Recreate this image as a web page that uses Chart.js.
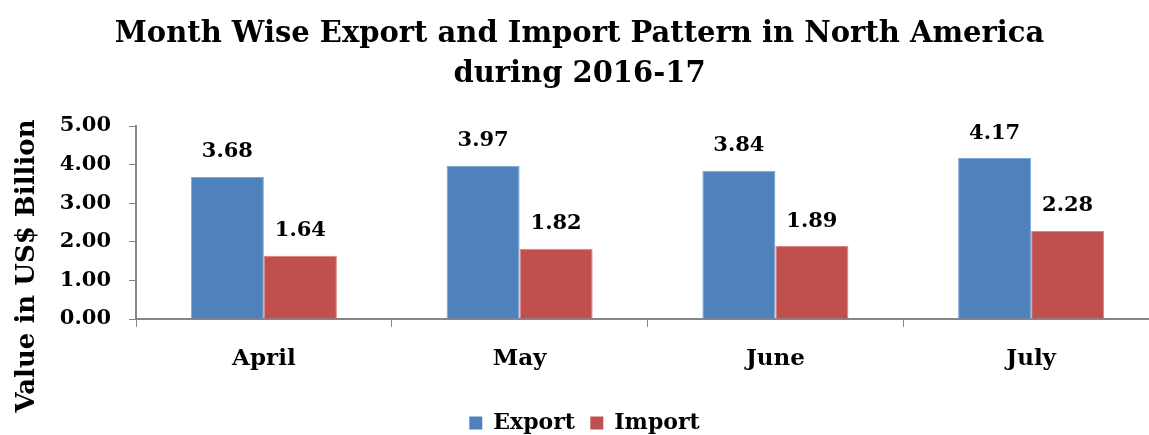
<!DOCTYPE html>
<html>
<head>
<meta charset="utf-8">
<script src="https://cdn.jsdelivr.net/npm/chart.js@4.4.0/dist/chart.umd.min.js"></script>
<style>
  html, body { margin: 0; padding: 0; background: #fff; overflow: hidden; }
  #wrap { width: 1149px; height: 435px; overflow: hidden; }
</style>
</head>
<body>
<div id="wrap"><canvas id="chart" width="1159" height="435"></canvas></div>
<script>
const months = ['April', 'May', 'June', 'July'];
const exportValues = [3.68, 3.97, 3.84, 4.17];
const importValues = [1.64, 1.82, 1.89, 2.28];
const titleLines = ['Month Wise Export and Import Pattern in North America', 'during 2016-17'];
const yAxisTitle = 'Value in US$ Billion';

const FONT = "'DejaVu Serif', serif";

// draws the value above each bar
const valueLabels = {
    id: 'valueLabels',
    afterDatasetsDraw(chart) {
        const ctx = chart.ctx;
        ctx.save();
        ctx.font = 'bold 21px ' + FONT;
        ctx.fillStyle = '#000';
        ctx.textAlign = 'center';
        ctx.textBaseline = 'middle';
        chart.data.datasets.forEach((ds, i) => {
            chart.getDatasetMeta(i).data.forEach((bar, j) => {
                ctx.fillText(ds.data[j].toFixed(2), bar.x, bar.y - 25);
            });
        });
        ctx.restore();
    }
};

// rotated axis title, centred a bit lower than the plot like the original
const yTitle = {
    id: 'yTitle',
    afterDraw(chart) {
        const ctx = chart.ctx;
        ctx.save();
        ctx.translate(27, 266);
        ctx.rotate(-Math.PI / 2);
        ctx.font = 'bold 26px ' + FONT;
        ctx.fillStyle = '#000';
        ctx.textAlign = 'center';
        ctx.textBaseline = 'middle';
        ctx.fillText(yAxisTitle, 0, 0);
        ctx.restore();
    }
};

// legend reserves 10px under itself; nudge it down into that space
const legendNudge = {
    id: 'legendNudge',
    afterLayout(chart) {
        const lg = chart.legend;
        if (!lg) return;
        lg.top += 9;
        lg.bottom += 9;
        lg.left += 5;
        lg.right += 5;
    }
};

new Chart(document.getElementById('chart'), {
    type: 'bar',
    data: {
        labels: months,
        datasets: [
            {
                label: 'Export',
                data: exportValues,
                backgroundColor: '#4F81BD',
                borderColor: '#7EA6D8',
                borderWidth: 1
            },
            {
                label: 'Import',
                data: importValues,
                backgroundColor: '#C0504D',
                borderColor: '#D98583',
                borderWidth: 1
            }
        ]
    },
    options: {
        responsive: false,
        animation: false,
        layout: { padding: { left: 0, right: 0, top: 0, bottom: 0 } },
        datasets: {
            bar: { categoryPercentage: 0.571, barPercentage: 1.0 }
        },
        plugins: {
            title: {
                display: true,
                text: titleLines,
                color: '#000',
                font: { family: FONT, size: 29, weight: 'bold', lineHeight: 1.38 },
                padding: { top: 14, bottom: 32 }
            },
            legend: {
                position: 'bottom',
                labels: {
                    color: '#000',
                    font: { family: FONT, size: 22, weight: 'bold', lineHeight: 1.0 },
                    boxWidth: 13,
                    boxHeight: 13,
                    padding: 0,
                    generateLabels(chart) {
                        return chart.data.datasets.map((ds, i) => ({
                            text: i === 0 ? ds.label + '  ' : ds.label,
                            fillStyle: ds.backgroundColor,
                            strokeStyle: ds.backgroundColor,
                            lineWidth: 0,
                            fontColor: '#000',
                            datasetIndex: i
                        }));
                    }
                }
            },
            tooltip: { enabled: false }
        },
        scales: {
            x: {
                afterFit(scale) { scale.height = 84; },
                grid: {
                    display: true,
                    drawOnChartArea: false,
                    offset: true,
                    tickLength: 8,
                    color: '#868686'
                },
                border: { color: '#868686', width: 2 },
                ticks: {
                    color: '#000',
                    padding: 18,
                    font: { family: FONT, size: 23, weight: 'bold' }
                }
            },
            y: {
                min: 0,
                max: 5,
                afterFit(scale) { scale.width = 136; },
                ticks: {
                    stepSize: 1,
                    color: '#000',
                    padding: 18,
                    font: { family: FONT, size: 21, weight: 'bold' },
                    callback: v => v.toFixed(2)
                },
                grid: {
                    display: true,
                    drawOnChartArea: false,
                    tickLength: 7,
                    color: '#868686'
                },
                border: { color: '#868686', width: 2 }
            }
        }
    },
    plugins: [valueLabels, yTitle, legendNudge]
});
</script>
</body>
</html>
